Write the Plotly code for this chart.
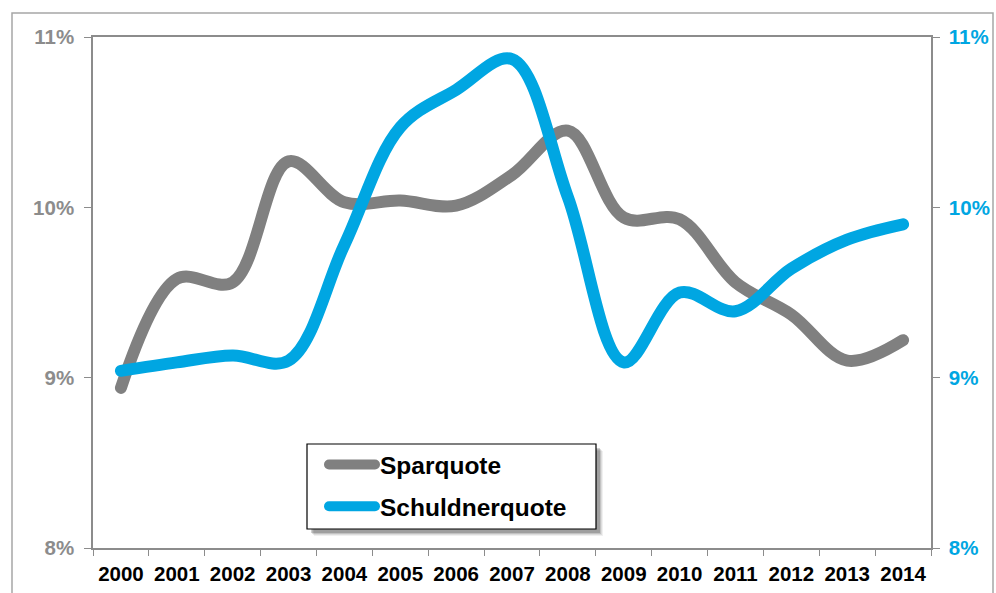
import plotly.graph_objects as go

years = [str(y) for y in range(2000, 2015)]
sparquote = [8.94, 9.58, 9.56, 10.27, 10.03, 10.04, 10.01, 10.19, 10.45, 9.94, 9.93, 9.56, 9.37, 9.10, 9.22]
schuldnerquote = [9.04, 9.09, 9.13, 9.10, 9.78, 10.47, 10.69, 10.87, 10.06, 9.09, 9.50, 9.39, 9.64, 9.81, 9.90]
y_ticks = [8, 9, 10, 11]
y_labels = ["8%", "9%", "10%", "11%"]

GRAY = "#808080"
BLUE = "#00A6E2"
AXIS = "#8c8c8c"
FONT = "Arial, Liberation Sans, sans-serif"

# plot area in pixels: x 93..931, y 37..548
def px(x):
    return (x - 93) / 838

def py(y):
    return (548 - y) / 511

fig = go.Figure()
fig.add_trace(go.Scatter(x=years, y=sparquote, name="Sparquote", mode="lines",
                         line=dict(color=GRAY, width=12, shape="spline", smoothing=1.0),
                         legendgroup="a"))
fig.add_trace(go.Scatter(x=years, y=schuldnerquote, name="Schuldnerquote", mode="lines",
                         line=dict(color=BLUE, width=12, shape="spline", smoothing=1.0),
                         yaxis="y2", legendgroup="b"))

shapes = [
    dict(type="rect", xref="paper", yref="paper",
         x0=px(12), x1=px(993), y0=py(620), y1=py(13),
         line=dict(color="#a6a6a6", width=1.5), fillcolor="rgba(0,0,0,0)", layer="below"),
]
# legend shadow (soft) and box
for off, alpha in [(7, 0.06), (6, 0.08), (5, 0.12), (4, 0.18)]:
    shapes.append(dict(type="rect", xref="paper", yref="paper",
                       x0=px(307 + off), x1=px(596 + off), y0=py(529 + off), y1=py(444 + off),
                       line=dict(width=0), fillcolor=f"rgba(0,0,0,{alpha})", layer="below"))
shapes.append(dict(type="rect", xref="paper", yref="paper",
                   x0=px(307), x1=px(596), y0=py(529), y1=py(444),
                   line=dict(color="black", width=1.2), fillcolor="white", layer="below"))

fig.update_layout(
    width=996, height=593,
    margin=dict(l=93, r=65, t=37, b=45, autoexpand=False),
    paper_bgcolor="white", plot_bgcolor="rgba(0,0,0,0)",
    font=dict(family=FONT),
    showlegend=True,
    legend=dict(x=px(324), y=py(442), xanchor="left", yanchor="top",
                bgcolor="rgba(0,0,0,0)", borderwidth=0,
                font=dict(size=24.5, color="black", family=FONT, weight="bold"),
                itemwidth=46, tracegroupgap=7),
    xaxis=dict(type="category", range=[-0.5, 14.5], tickson="boundaries", tickangle=0,
               ticks="outside", ticklen=6, tickcolor=AXIS, showline=True, linecolor=AXIS,
               linewidth=1.5, mirror=True, showgrid=False, automargin=False,
               tickfont=dict(size=20.5, color="black", family=FONT, weight="bold"),
               ticklabelstandoff=7),
    yaxis=dict(range=[8, 11], tickvals=y_ticks, ticktext=y_labels, ticks="outside",
               ticklen=7, tickcolor=AXIS, showline=True, linecolor=AXIS, linewidth=1.5,
               showgrid=False, zeroline=False, automargin=False,
               tickfont=dict(size=20.5, color=AXIS, family=FONT, weight="bold"),
               ticklabelstandoff=6),
    yaxis2=dict(range=[8, 11], tickvals=y_ticks, ticktext=y_labels, ticks="outside",
                ticklen=7, tickcolor=AXIS, showline=True, linecolor=AXIS, linewidth=1.5,
                showgrid=False, zeroline=False, overlaying="y", side="right", automargin=False,
                tickfont=dict(size=20.5, color=BLUE, family=FONT, weight="bold"),
                ticklabelstandoff=5),
    shapes=shapes,
)

post = """
document.body.style.margin='0';
document.querySelectorAll('.scatterlayer .js-line, .legendlines path').forEach(function(p){p.style.strokeLinecap='round';});
"""
fig.write_html("out.html", post_script=post, config={"displayModeBar": False})
